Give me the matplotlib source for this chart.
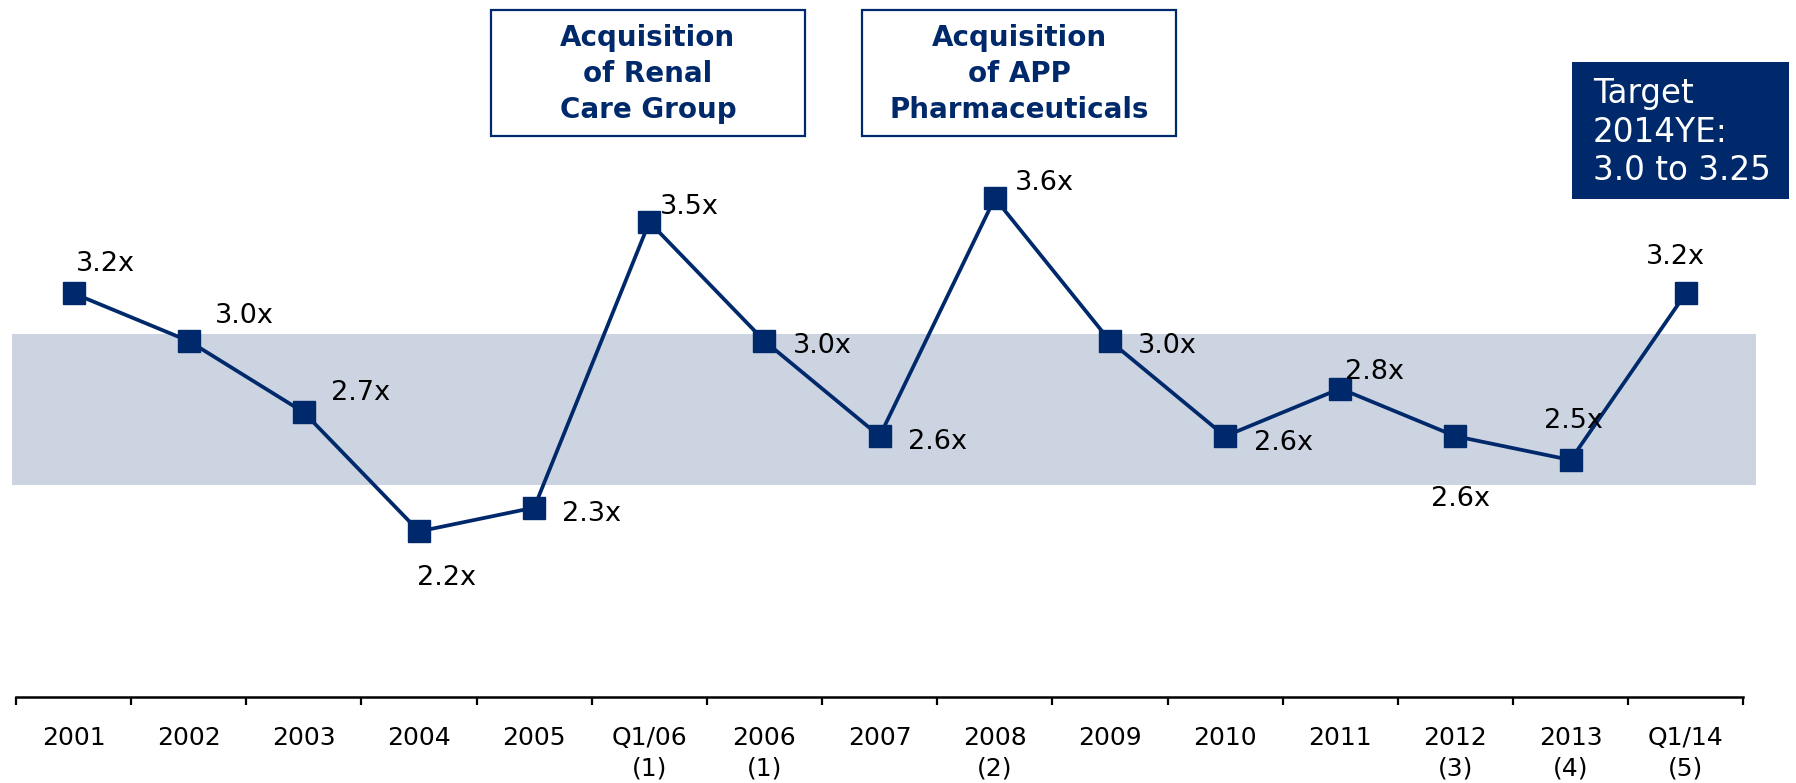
import matplotlib
matplotlib.use("Agg")
import matplotlib.pyplot as plt
from matplotlib.patches import Rectangle

# ---- data ----
categories = ['2001', '2002', '2003', '2004', '2005', 'Q1/06\n(1)', '2006\n(1)', '2007',
              '2008\n(2)', '2009', '2010', '2011', '2012\n(3)', '2013\n(4)', 'Q1/14\n(5)']
values = [3.2, 3.0, 2.7, 2.2, 2.3, 3.5, 3.0, 2.6, 3.6, 3.0, 2.6, 2.8, 2.6, 2.5, 3.2]
value_labels = ['3.2x', '3.0x', '2.7x', '2.2x', '2.3x', '3.5x', '3.0x', '2.6x',
                '3.6x', '3.0x', '2.6x', '2.8x', '2.6x', '2.5x', '3.2x']
band_low, band_high = 2.395, 3.03
box_texts = ['Acquisition\nof Renal\nCare Group', 'Acquisition\nof APP\nPharmaceuticals']
target_text = 'Target\n2014YE:\n3.0 to 3.25'

# label offsets from marker centre (pixels, x right / y down, to text visual centre)
label_offsets = [(32, -32), (56, -28), (57, -22), (27, 44), (57, 3), (40, -18), (58, 2),
                 (58, 3), (50, -18), (57, 2), (58, 4), (34, -20), (5, 60), (3, -42), (-10, -39)]

NAVY = '#00296B'
BAND = '#CCD4E1'

W, H = 1796, 783
fig = plt.figure(figsize=(W / 100, H / 100), dpi=100)
plt.rcParams['font.family'] = ['DejaVu Sans']


def fx(x):
    return x / W


def fy(y):
    return 1 - y / H


ax = fig.add_axes([fx(16), fy(696.7), (1743.3 - 16) / W, 696.7 / H])
ax.set_xlim(-0.5, 14.5)
ax.set_ylim(1.5055, 4.4328)
ax.patch.set_alpha(0)

x = list(range(len(categories)))

# band
ax.fill_between([-0.532, 14.61], band_low, band_high, color=BAND, lw=0, clip_on=False, zorder=1)

# line
ax.plot(x, values, color=NAVY, lw=2.7, marker='s', markersize=15.5,
        markerfacecolor=NAVY, markeredgecolor=NAVY, zorder=3, clip_on=False)

for xi, v, lab, (dx, dy) in zip(x, values, value_labels, label_offsets):
    ax.annotate(lab, (xi, v), xytext=(dx, -(dy + 10)), textcoords='offset pixels',
                ha='center', va='baseline', fontsize=19.5, color='black', zorder=4)

# axes styling
for s in ['left', 'right', 'top']:
    ax.spines[s].set_visible(False)
ax.spines['bottom'].set_linewidth(1.8)
ax.spines['bottom'].set_color('black')
ax.set_yticks([])
ax.set_xticks(x)
ax.set_xticklabels(categories, fontsize=18, linespacing=1.35)
ax.tick_params(axis='x', which='major', length=0, pad=21)
ax.set_xticks([i - 0.5 for i in range(len(categories) + 1)], minor=True)
ax.tick_params(axis='x', which='minor', length=5.8, width=1.6, direction='out', color='black')

# acquisition boxes
boxes = [(490.7, 805.0), (862.0, 1176.0)]
for (x0, x1), txt in zip(boxes, box_texts):
    y0, y1 = 9.5, 136.0
    r = Rectangle((fx(x0), fy(y1)), (x1 - x0) / W, (y1 - y0) / H, transform=fig.transFigure,
                  facecolor='white', edgecolor=NAVY, lw=1.6)
    fig.add_artist(r)
    fig.text(fx((x0 + x1) / 2), fy((y0 + y1) / 2 + 1), txt, ha='center', va='center',
             fontsize=20, fontweight='bold', color=NAVY, linespacing=1.37)

# target box
tx0, tx1, ty0, ty1 = 1572.0, 1789.0, 61.7, 199.0
fig.add_artist(Rectangle((fx(tx0), fy(ty1)), (tx1 - tx0) / W, (ty1 - ty0) / H,
                         transform=fig.transFigure, facecolor=NAVY, edgecolor=NAVY, lw=0))
fig.text(fx(1593), fy(132), target_text, ha='left', va='center', fontsize=23.5,
         color='white', linespacing=1.2)

fig.savefig('out.png', dpi=100)
